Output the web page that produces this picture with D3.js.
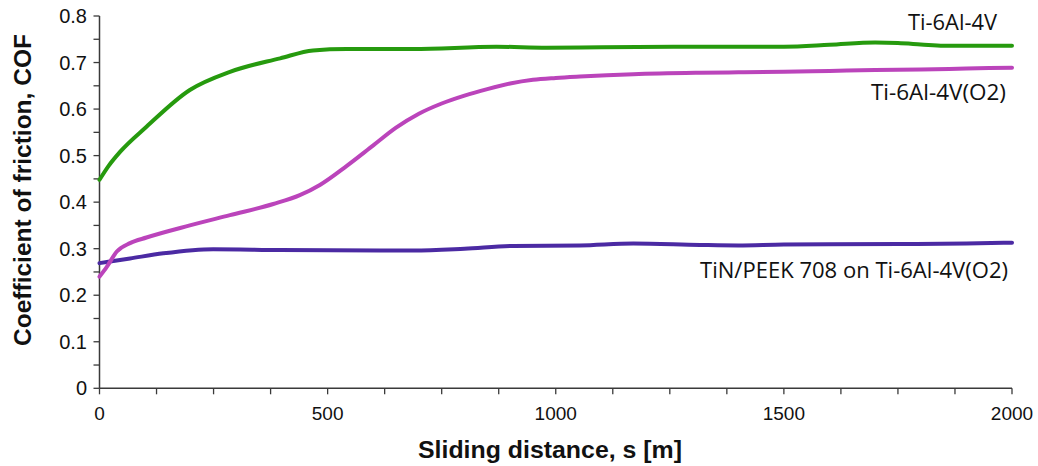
<!DOCTYPE html>
<html><head><meta charset="utf-8">
<script src="https://cdn.jsdelivr.net/npm/d3@7"></script>
<style>body{margin:0;background:#fff}svg{display:block}</style>
</head><body>
<svg id="c" width="1038" height="466"></svg>
<script>
const seriesNames = ["Ti-6Al-4V", "Ti-6Al-4V(O2)", "TiN/PEEK 708 on Ti-6Al-4V(O2)"];
const greenS = [0,20,45,103,198,286,396,468,542,687,870,980,1100,1300,1500,1600,1700,1750,1800,1850,1900,2000];
const greenV = [0.448,0.478,0.508,0.562,0.641,0.680,0.709,0.726,0.729,0.729,0.734,0.732,0.733,0.734,0.734,0.738,0.743,0.742,0.739,0.736,0.736,0.736];
const magS = [0,16,38,67,103,198,286,381,439,483,542,600,650,700,750,800,850,900,950,1000,1053,1170,1316,1400,1500,1600,1700,1800,1900,2000];
const magV = [0.240,0.261,0.294,0.312,0.324,0.350,0.372,0.396,0.415,0.437,0.478,0.522,0.560,0.590,0.612,0.629,0.643,0.655,0.663,0.667,0.670,0.675,0.678,0.679,0.680,0.682,0.684,0.685,0.687,0.689];
const purS = [0,67,140,249,396,615,688,800,907,1053,1170,1316,1400,1500,1754,1900,2000];
const purV = [0.269,0.279,0.290,0.299,0.297,0.296,0.296,0.300,0.306,0.307,0.311,0.308,0.307,0.309,0.310,0.311,0.313];
const xTicks = [0,500,1000,1500,2000];
const yTicks = [0,0.1,0.2,0.3,0.4,0.5,0.6,0.7,0.8];
const colors = ["#269a0e","#bb44bb","#4b2aa3"];

const svg = d3.select("#c");
const x = d3.scaleLinear().domain([0,2000]).range([99.5,1012]);
const y = d3.scaleLinear().domain([0,0.8]).range([388.3,16]);
const axisColor = "#3a3a3a";

const gx = svg.append("g");
gx.append("line").attr("x1",x(0)).attr("x2",x(2000)).attr("y1",y(0)).attr("y2",y(0)).attr("stroke",axisColor).attr("stroke-width",1.5);
d3.range(0,2001,125).forEach(v=>{
  gx.append("line").attr("x1",x(v)).attr("x2",x(v)).attr("y1",y(0)).attr("y2",y(0)+6).attr("stroke",axisColor).attr("stroke-width",1.3);
});
xTicks.forEach(v=>{
  gx.append("text").attr("x",x(v)).attr("y",420).attr("text-anchor","middle")
    .attr("font-family","Liberation Sans, Arial, sans-serif").attr("font-size",19).attr("fill","#111")
    .text(d3.format("d")(v));
});
const gy = svg.append("g");
gy.append("line").attr("x1",x(0)).attr("x2",x(0)).attr("y1",y(0)).attr("y2",y(0.8)).attr("stroke",axisColor).attr("stroke-width",1.5);
d3.range(0,17).map(i=>i*0.05).forEach(v=>{
  gy.append("line").attr("x1",x(0)-6).attr("x2",x(0)).attr("y1",y(v)).attr("y2",y(v)).attr("stroke",axisColor).attr("stroke-width",1.3);
});
yTicks.forEach(v=>{
  gy.append("text").attr("x",87).attr("y",y(v)+7).attr("text-anchor","end")
    .attr("font-family","Liberation Sans, Arial, sans-serif").attr("font-size",20).attr("fill","#111")
    .text(v===0?"0":d3.format(".1f")(v));
});

svg.append("text").attr("transform","translate(31,190) rotate(-90)").attr("text-anchor","middle")
  .attr("font-family","Liberation Sans, Arial, sans-serif").attr("font-weight","bold").attr("font-size",23).attr("fill","#111")
  .attr("textLength",312).attr("lengthAdjust","spacingAndGlyphs")
  .text("Coefficient of friction, COF");
svg.append("text").attr("x",550).attr("y",458).attr("text-anchor","middle")
  .attr("font-family","Liberation Sans, Arial, sans-serif").attr("font-weight","bold").attr("font-size",23).attr("fill","#111")
  .attr("textLength",264).attr("lengthAdjust","spacingAndGlyphs")
  .text("Sliding distance, s [m]");

const line = d3.line().x(d=>x(d[0])).y(d=>y(d[1])).curve(d3.curveMonotoneX);
const data = [d3.zip(greenS,greenV), d3.zip(magS,magV), d3.zip(purS,purV)];
[2,1,0].forEach(i=>{
  svg.append("path").datum(data[i]).attr("d",line).attr("fill","none")
    .attr("stroke",colors[i]).attr("stroke-width",4).attr("stroke-linecap","round").attr("stroke-linejoin","round");
});

const labs = [
  {t:seriesNames[0], x:997, y:30, w:89},
  {t:seriesNames[1], x:1006, y:100, w:135},
  {t:seriesNames[2], x:1008, y:278, w:308}
];
labs.forEach(l=>{
  svg.append("text").attr("x",l.x).attr("y",l.y).attr("text-anchor","end")
    .attr("font-family","Open Sans, Noto Sans, sans-serif").attr("font-size",21).attr("fill","#111")
    .attr("textLength",l.w).attr("lengthAdjust","spacingAndGlyphs").text(l.t);
});
</script>
</body></html>
